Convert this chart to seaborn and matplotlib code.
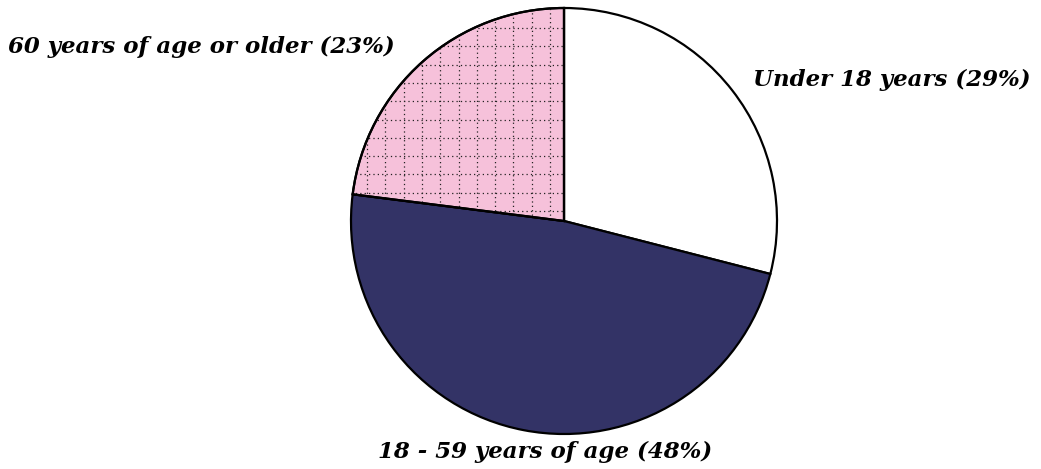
import matplotlib
matplotlib.use("Agg")
import matplotlib.pyplot as plt
from matplotlib.patches import Wedge
import seaborn as sns
import numpy as np

categories = ["Under 18 years", "18 - 59 years of age", "60 years of age or older"]
shares = [29, 48, 23]
colors = ["#FFFFFF", "#333366", "#F6C1DA"]

sns.set_theme(style="white")
plt.rcParams["font.family"] = ["DejaVu Serif"]

fig = plt.figure(figsize=(10.41, 4.69), dpi=100)
ax = fig.add_axes([0, 0, 1, 1])

cx, cy, r = 564, 248, 213
wedges, _ = ax.pie(shares, colors=sns.color_palette(colors), startangle=90,
                   counterclock=False, center=(cx, cy), radius=r,
                   wedgeprops=dict(edgecolor="black", linewidth=1.6))
ax.set_xlim(0, 1041)
ax.set_ylim(0, 469)
ax.set_aspect("equal")
ax.axis("off")

# dotted grid pattern in the "60+" wedge
pink = wedges[2]
step = 18.3
for gx in np.arange(cx - 14, cx - r - 5, -step):
    ln, = ax.plot([gx, gx], [cy - r, cy + r], color="#222222", lw=0.9,
                  linestyle=(0, (1, 2.5)), zorder=3)
    ln.set_clip_path(pink)
for gy in np.arange(469 - 28, cy - r - 5, -step):
    ln, = ax.plot([cx - r, cx], [gy, gy], color="#222222", lw=0.9,
                  linestyle=(0, (1, 2.5)), zorder=3)
    ln.set_clip_path(pink)
ax.add_patch(Wedge((cx, cy), r, pink.theta1, pink.theta2, facecolor="none",
                   edgecolor="black", linewidth=1.6, zorder=4))

labels = [f"{c} ({s}%)" for c, s in zip(categories, shares)]
style = dict(fontsize=16.5, fontweight="bold", fontstyle="italic", color="black")
ax.text(1031, 469 - 80, labels[0], ha="right", va="center", **style)
ax.text(545, 469 - 452, labels[1], ha="center", va="center", **style)
ax.text(8, 469 - 47, labels[2], ha="left", va="center", **style)

fig.savefig("out.png", dpi=100)
